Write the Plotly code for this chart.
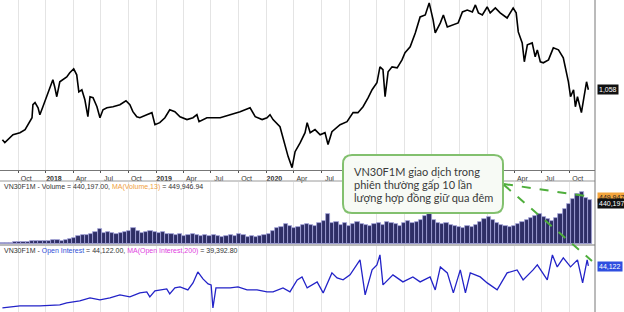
import plotly.graph_objects as go
import pandas as pd

# ---------------- data ----------------
price_dates = ["2017-08-10","2017-08-18","2017-09-14","2017-10-07","2017-10-24","2017-11-03","2017-11-16","2017-11-19","2017-11-26","2017-12-06","2017-12-12","2017-12-22",
"2018-01-04","2018-01-14","2018-01-24","2018-01-30","2018-02-06","2018-02-16","2018-02-26","2018-03-11","2018-03-21","2018-04-03","2018-04-13","2018-04-20","2018-04-30","2018-05-10","2018-05-20","2018-05-27","2018-06-06","2018-06-19","2018-06-29","2018-07-09","2018-07-22","2018-08-11","2018-09-03","2018-09-23","2018-10-06","2018-10-16","2018-10-29","2018-11-08","2018-12-01","2018-12-18","2018-12-28",
"2019-01-13","2019-01-30","2019-02-15","2019-03-04","2019-03-21","2019-04-13","2019-05-03","2019-05-16","2019-05-23","2019-06-18","2019-08-01","2019-09-03","2019-10-06","2019-11-08","2019-11-25","2019-12-18",
"2020-01-03","2020-01-13","2020-01-23","2020-02-15","2020-03-03","2020-03-13","2020-03-26","2020-04-05","2020-04-22","2020-05-08","2020-05-15","2020-05-25","2020-06-10","2020-06-27","2020-07-13","2020-07-23","2020-08-05","2020-08-22","2020-09-01","2020-09-24","2020-10-14","2020-10-30","2020-11-16","2020-12-03","2020-12-16",
"2021-01-01","2021-01-11","2021-01-21","2021-01-28","2021-02-07","2021-02-20","2021-03-09","2021-03-25","2021-04-04","2021-04-21","2021-05-08","2021-05-24","2021-06-10","2021-06-23","2021-07-06","2021-07-13","2021-07-30","2021-08-09","2021-08-22","2021-09-11","2021-09-27","2021-10-11","2021-10-27","2021-11-13","2021-11-23","2021-12-03","2021-12-16",
"2022-01-01","2022-01-11","2022-01-28","2022-02-13","2022-03-08","2022-03-28","2022-04-07","2022-04-14","2022-04-27","2022-05-04","2022-05-14","2022-05-30","2022-06-09","2022-06-16","2022-06-26","2022-07-06","2022-07-23","2022-08-08","2022-08-25","2022-09-10","2022-09-27","2022-10-04","2022-10-14","2022-10-20","2022-10-27","2022-11-09","2022-11-16","2022-11-26","2022-12-02"]
price_vals = [764,746,793,805,823,852,893,970,982,952,911,958,
1017,1070,1117,1076,1017,1105,1117,1134,1158,1181,1146,1046,1058,999,899,1017,1011,958,893,940,952,958,970,993,970,929,899,893,911,923,852,
864,893,940,929,899,882,893,911,870,893,893,911,929,952,899,882,
893,911,882,840,723,664,599,693,746,805,864,805,823,793,805,735,811,835,852,870,923,923,958,1011,1058,
1099,1193,1176,1017,1164,1193,1187,1234,1276,1311,1393,1487,1499,1570,1470,1393,1452,1499,1428,1440,1452,1517,1528,1517,1558,1511,1499,
1546,1511,1540,1511,1481,1540,1511,1399,1334,1223,1323,1334,1252,1293,1223,1217,1234,1305,1293,1246,1105,1017,1058,958,1017,923,999,1105,1058]

# volume, thousand contracts, one value per 14 days from 2017-08-10
vol_k = [10,10,10,20,20,20,20,30,30,30,30,30,40,40,30,40,50,60,80,90,90,100,120,150,110,120,110,100,110,120,
130,160,130,110,120,130,120,110,120,100,100,90,100,80,90,100,90,80,90,80,90,80,70,80,90,80,100,90,70,80,
70,80,90,100,130,160,170,200,180,160,170,190,200,190,180,210,230,300,210,220,190,210,180,200,220,200,190,180,200,210,
190,220,210,200,180,210,230,210,220,240,280,300,240,210,200,210,190,180,170,160,180,170,190,220,250,270,240,210,190,180,
170,180,200,220,240,260,280,300,270,250,230,260,300,350,400,450,500,520,460,440]
vol_dates = pd.date_range("2017-08-10", periods=len(vol_k), freq="14D")

oi_dates = ["2017-08-10","2017-10-07","2017-12-12","2018-02-16","2018-03-11","2018-04-23","2018-05-27","2018-06-29","2018-08-01","2018-09-03","2018-10-06","2018-11-08","2018-12-01","2018-12-11","2018-12-28",
"2019-01-13","2019-02-05","2019-02-15","2019-03-04","2019-03-21","2019-04-16","2019-05-03","2019-05-19","2019-06-05","2019-06-22","2019-07-02","2019-07-08","2019-07-18","2019-08-07","2019-09-03","2019-09-29","2019-10-29","2019-12-01",
"2020-01-03","2020-01-23","2020-02-25","2020-03-19","2020-04-12","2020-04-28","2020-05-15","2020-06-17","2020-07-07","2020-08-05","2020-08-22","2020-09-11","2020-10-04","2020-11-06","2020-11-23","2020-12-16",
"2021-01-01","2021-01-11","2021-01-21","2021-02-23","2021-03-28","2021-04-30","2021-05-24","2021-06-26","2021-07-13","2021-07-30","2021-08-22","2021-09-11","2021-10-04","2021-10-21","2021-11-06","2021-12-09",
"2022-01-01","2022-02-03","2022-03-08","2022-04-10","2022-04-30","2022-06-02","2022-06-16","2022-07-19","2022-08-05","2022-08-21","2022-09-10","2022-10-04","2022-10-27","2022-11-13","2022-11-28","2022-12-02"]
oi_k = [2.1,4.1,4.1,5.1,7.1,9.1,12.1,10.1,12.1,15.1,13.1,17.1,18.1,13.1,19.1,
20.1,21.1,16.1,22.1,23.1,20.1,27.1,38.1,31.1,26.1,25.1,2.1,22.1,22.1,22.1,23.1,20.1,20.1,
18.1,18.1,22.1,18.1,30.1,33.1,22.1,28.1,17.1,37.1,32.1,30.1,35.1,50.1,15.1,40.1,
45.1,55.1,25.1,35.1,28.1,33.1,28.1,33.1,20.1,43.1,37.1,17.1,40.1,17.1,37.1,33.1,
27.1,20.1,37.1,40.1,30.1,40.1,45.1,30.1,55.1,43.1,52.1,43.1,50.1,27.1,50.1,44.122]

tick_dates = ["2017-10-01","2018-01-01","2018-04-01","2018-07-01","2018-10-01","2019-01-01","2019-04-01","2019-07-01","2019-10-01",
"2020-01-01","2020-04-01","2020-07-01","2020-10-01","2021-01-01","2021-04-01","2021-07-01","2021-10-01","2022-01-01","2022-04-01","2022-07-01","2022-10-01"]
# labels from Oct 2020 to Jan 2022 sit under the note box in the reference
tick_text = ["Oct","<b>2018</b>","Apr","Jul","Oct","<b>2019</b>","Apr","Jul","Oct","<b>2020</b>","Apr","Jul","","","","","","","Apr","Jul","Oct"]

note_lines = ["VN30F1M giao dịch trong", "phiên thường gấp 10 lần", "lượng hợp đồng giữ qua đêm"]

# ---------------- figure ----------------
W, H = 624, 312
def py(p):  # pixel row -> paper
    return 1 - p / H
def px(p):
    return p / W

XR = ["2017-08-02", "2022-12-24"]
XD = [0, px(595)]

fig = go.Figure()
fig.add_trace(go.Scatter(x=price_dates, y=price_vals, mode="lines",
                         line=dict(color="#000000", width=1.6), xaxis="x", yaxis="y"))
fig.add_trace(go.Bar(x=vol_dates, y=[v * 1000 for v in vol_k],
                     marker=dict(color="#2e2e66", line=dict(color="#a4a4da", width=0.8)),
                     xaxis="x2", yaxis="y2"))
fig.add_trace(go.Scatter(x=oi_dates, y=[v * 1000 for v in oi_k], mode="lines",
                         line=dict(color="#2323c8", width=1.3), xaxis="x3", yaxis="y3"))

base_font = "Arial, Liberation Sans, sans-serif"
xcommon = dict(type="date", range=XR, domain=XD, tickvals=tick_dates, showgrid=True,
               gridcolor="#e4e4e4", gridwidth=1, zeroline=False)
ycommon = dict(showgrid=False, zeroline=False, showticklabels=False, ticks="")

fig.update_layout(
    width=W, height=H, margin=dict(l=0, r=0, t=0, b=0),
    paper_bgcolor="white", plot_bgcolor="white", showlegend=False, bargap=0,
    font=dict(family=base_font, size=7, color="#333"),
    xaxis=dict(**xcommon, anchor="y", ticktext=tick_text, ticks="outside", ticklen=2,
               tickcolor="#555", showline=True, linecolor="#777", linewidth=1,
               tickfont=dict(size=7, color="#333"), ticklabelshift=8, ticklabelstandoff=0),
    xaxis2=dict(**xcommon, anchor="y2", matches="x", showticklabels=False, ticks=""),
    xaxis3=dict(**xcommon, anchor="y3", matches="x", showticklabels=False, ticks=""),
    yaxis=dict(**ycommon, domain=[py(170), 1], range=[585, 1587]),
    yaxis2=dict(**ycommon, domain=[py(244), py(182)], range=[0, 620000]),
    yaxis3=dict(**ycommon, domain=[0, py(246)], range=[-2000, 64000]),
)

shapes = []
# separators and right border
for yy, c in [(181, "#9a9a9a"), (245, "#777")]:
    shapes.append(dict(type="line", xref="paper", yref="paper", x0=0, x1=px(595),
                       y0=py(yy), y1=py(yy), line=dict(color=c, width=1)))
shapes.append(dict(type="line", xref="paper", yref="paper", x0=px(595), x1=px(595),
                   y0=0, y1=1, line=dict(color="#777", width=1)))

# annotation box (rounded)
x0, x1, yt, yb, r = 343, 503, 155, 213, 9
path = (f"M {px(x0+r)},{py(yt)} L {px(x1-r)},{py(yt)} Q {px(x1)},{py(yt)} {px(x1)},{py(yt+r)} "
        f"L {px(x1)},{py(yb-r)} Q {px(x1)},{py(yb)} {px(x1-r)},{py(yb)} "
        f"L {px(x0+r)},{py(yb)} Q {px(x0)},{py(yb)} {px(x0)},{py(yb-r)} "
        f"L {px(x0)},{py(yt+r)} Q {px(x0)},{py(yt)} {px(x0+r)},{py(yt)} Z")
shapes.append(dict(type="path", xref="paper", yref="paper", path=path, layer="above",
                   fillcolor="#f7faf5", line=dict(color="#82c06e", width=2)))
# dashed green pointers
green = "#4fae3c"
for (ax, ay, bx, by) in [(504, 184, 592, 197), (504, 185, 592, 261)]:
    shapes.append(dict(type="line", xref="paper", yref="paper", x0=px(ax), y0=py(ay),
                       x1=px(bx), y1=py(by), layer="above",
                       line=dict(color=green, width=2, dash="dash")))
fig.update_layout(shapes=shapes)

ann = []
hdr_y = [(187, "VN30F1M - Volume = 440,197.00, <span style='color:#f0a040'>MA(Volume,13)</span> = 449,946.94"),
         (251, "VN30F1M - <span style='color:#3050d8'>Open Interest</span> = 44,122.00, <span style='color:#e040e0'>MA(Open Interest,200)</span> = 39,392.80")]
for yy, t in hdr_y:
    ann.append(dict(xref="paper", yref="paper", x=px(2), y=py(yy), xanchor="left", yanchor="middle",
                    text=t, showarrow=False, font=dict(size=7, color="#333", family=base_font)))
for i, t in enumerate(note_lines):
    ann.append(dict(xref="paper", yref="paper", x=px(352), y=py(171 + 13 * i), xanchor="left",
                    yanchor="middle", text=t, showarrow=False,
                    font=dict(size=11, color="#3a3a3a", family="Lato, sans-serif")))
for yy, t, bg, fc in [(90, "1,058", "#111", "white"), (197, "449,947", "#f4a53c", "#222"),
                      (203, "440,197", "#111", "white"), (266, "44,122", "#2f4fe0", "white")]:
    ann.append(dict(xref="paper", yref="paper", x=px(597), y=py(yy), xanchor="left", yanchor="middle",
                    text=t, showarrow=False, bgcolor=bg, borderpad=1,
                    font=dict(size=7, color=fc, family=base_font)))
fig.update_layout(annotations=ann)

fig.write_html("out.html")
